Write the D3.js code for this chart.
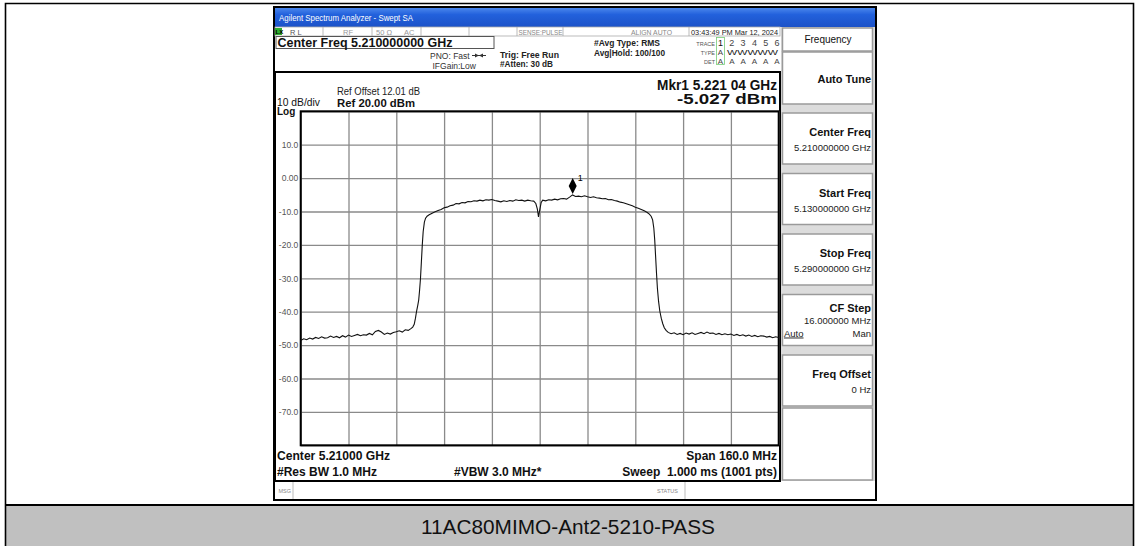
<!DOCTYPE html>
<html>
<head>
<meta charset="utf-8">
<title>11AC80MIMO-Ant2-5210-PASS</title>
<script src="https://d3js.org/d3.v7.min.js"></script>
<style>
  body { margin: 0; background: #fff; }
  svg text { font-family: "Liberation Sans", Arial, sans-serif; }
</style>
</head>
<body>
<div id="chart"></div>
<script>
// sweep settings (MHz)
var START_MHZ = 5130, STOP_MHZ = 5290, DIV_MHZ = 16;
var REF_DBM = 20, DB_DIV = 10;

// trace: [MHz from start freq, level dBm]
var trace = [
  [0,-48.6],[1,-48.1],[2,-48.4],[3,-47.9],[4,-48.2],[5,-47.7],[6,-48.0],[7,-47.5],[8,-47.9],[9,-47.8],
  [10,-47.3],[11,-47.7],[12,-47.4],[13,-47.8],[14,-47.2],[15,-47.6],[16,-47.0],[17,-47.4],[18,-47.1],[19,-46.8],
  [20,-47.2],[21,-46.9],[22,-47.0],[23,-46.5],[24,-46.9],[25,-45.9],[26,-45.6],[27,-46.1],[28,-46.8],[29,-46.4],
  [30,-46.7],[31,-46.2],[32,-46.0],[33,-45.7],[34,-46.1],[35,-45.4],[36,-45.6],[37,-45.0],[37.5,-44.6],[38,-43.8],
  [38.4,-42.0],[38.8,-39.8],[39.2,-38.0],[39.5,-36.5],[39.8,-33.5],[40.1,-30.0],[40.4,-25.0],[40.7,-20.0],[41,-16.0],[41.4,-13.2],
  [41.8,-12.0],[42.3,-11.4],[43,-11.0],[44,-10.5],[45,-10.1],[46,-9.7],[47,-9.4],[48,-8.9],[49,-8.7],[50,-8.3],
  [51,-8.1],[52,-7.6],[53,-7.7],[54,-7.3],[55,-7.4],[56,-7.0],[57,-7.1],[58,-6.8],[59,-6.9],[60,-6.6],
  [61,-6.8],[62,-6.5],[63,-6.6],[64,-6.4],[65,-6.7],[66,-6.9],[67,-7.1],[68,-6.8],[69,-7.0],[70,-6.7],
  [71,-6.9],[72,-6.5],[73,-6.7],[74,-6.6],[75,-6.9],[76,-6.6],[77,-6.8],[78,-6.9],[78.7,-7.6],[79.2,-9.2],
  [79.6,-11.6],[80.0,-9.6],[80.5,-7.3],[81,-6.6],[82,-6.8],[83,-6.5],[84,-6.6],[85,-6.3],[86,-6.5],[87,-6.2],
  [88,-6.1],[89,-6.3],[90,-5.7],[91,-5.03],[92,-5.5],[93,-5.4],[94,-5.6],[95,-5.3],[96,-5.6],[97,-5.8],
  [98,-5.6],[99,-5.9],[100,-6.0],[101,-6.2],[102,-6.1],[103,-6.5],[104,-6.4],[105,-6.7],[106,-6.9],[107,-7.2],
  [108,-7.4],[109,-7.7],[110,-8.0],[111,-8.3],[112,-8.7],[113,-9.0],[114,-9.4],[115,-9.8],[116,-10.3],[116.7,-10.8],
  [117.3,-11.4],[117.8,-12.5],[118.2,-15.0],[118.5,-18.5],[118.8,-23.5],[119.1,-28.5],[119.4,-33.0],[119.8,-37.0],[120.2,-39.8],[120.7,-42.0],
  [121.2,-43.6],[121.7,-44.8],[122.3,-45.6],[123,-46.2],[124,-46.6],[125,-46.3],[126,-46.8],[127,-46.5],[128,-46.9],[129,-46.4],
  [130,-46.7],[131,-46.3],[132,-46.8],[133,-46.5],[134,-46.2],[135,-46.6],[136,-46.1],[137,-46.5],[138,-46.4],[139,-46.8],
  [140,-46.5],[141,-46.9],[142,-46.6],[143,-46.9],[144,-46.7],[145,-47.1],[146,-46.8],[147,-47.2],[148,-46.9],[149,-47.3],
  [150,-47.0],[151,-47.4],[152,-47.1],[153,-47.5],[154,-47.2],[155,-47.3],[156,-47.6],[157,-47.4],[158,-47.8],[159,-47.5],
  [160,-47.7]
];

var yLevels = [20, 10, 0, -10, -20, -30, -40, -50, -60, -70, -80];
var yLabels = ["", "10.0", "0.00", "-10.0", "-20.0", "-30.0", "-40.0", "-50.0", "-60.0", "-70.0", ""];

var marker = { mhz: 5221.04, dbm: -5.027, name: "1" };

var caption = "11AC80MIMO-Ant2-5210-PASS";
var windowTitle = "Agilent Spectrum Analyzer - Swept SA";
var centerFreqText = "Center Freq 5.210000000 GHz";
var mkrLines = ["Mkr1 5.221 04 GHz", "-5.027 dBm"];

var softkeyMenu = "Frequency";
var softkeys = [
  { title: "Auto Tune" },
  { title: "Center Freq", value: "5.210000000 GHz" },
  { title: "Start Freq", value: "5.130000000 GHz" },
  { title: "Stop Freq", value: "5.290000000 GHz" },
  { title: "CF Step", value: "16.000000 MHz", auto: "Auto", man: "Man" },
  { title: "Freq Offset", value: "0 Hz" },
  { title: "" }
];

var W = 1136, H = 546;
var FONT_COLOR = "#111";

var svg = d3.select("#chart").append("svg")
    .attr("width", W).attr("height", H)
    .style("display", "block");

var defs = svg.append("defs");
var grad = defs.append("linearGradient").attr("id", "titlebar")
    .attr("x1", 0).attr("y1", 0).attr("x2", 0).attr("y2", 1);
grad.append("stop").attr("offset", "0%").attr("stop-color", "#4a86ec");
grad.append("stop").attr("offset", "35%").attr("stop-color", "#2261dc");
grad.append("stop").attr("offset", "100%").attr("stop-color", "#1c52c8");

function txt(g, x, y, s, size, opts) {
  opts = opts || {};
  var t = g.append("text")
      .attr("x", x).attr("y", y)
      .attr("font-size", size)
      .attr("fill", opts.fill || FONT_COLOR)
      .attr("font-weight", opts.bold ? "bold" : "normal")
      .attr("text-anchor", opts.anchor || "start")
      .text(s);
  if (opts.len) t.attr("textLength", opts.len).attr("lengthAdjust", "spacingAndGlyphs");
  return t;
}

// ---- page table (report cell) ----
svg.append("rect").attr("x", 0).attr("y", 0).attr("width", W).attr("height", H).attr("fill", "#fff");
svg.append("rect").attr("x", 6).attr("y", 506).attr("width", 1127).attr("height", 40).attr("fill", "#c0c0c0");
svg.append("path").attr("d", "M5.5,546V3.5H1133.5V546").attr("fill", "none").attr("stroke", "#000").attr("stroke-width", 1.6);
svg.append("line").attr("x1", 5).attr("x2", 1134).attr("y1", 505).attr("y2", 505).attr("stroke", "#000").attr("stroke-width", 2);
txt(svg, 568, 534, caption, 20.5, { anchor: "middle", fill: "#111", len: 294 });

// ---- analyzer screen ----
var scr = svg.append("g");
scr.append("rect").attr("x", 274).attr("y", 7).attr("width", 602).attr("height", 493)
    .attr("fill", "#fff").attr("stroke", "#000").attr("stroke-width", 2);
scr.append("rect").attr("x", 275).attr("y", 8).attr("width", 600).attr("height", 19).attr("fill", "url(#titlebar)");
txt(scr, 279, 21, windowTitle, 8.5, { fill: "#fff", len: 134 });

// status strip
scr.append("rect").attr("x", 275).attr("y", 27).attr("width", 505).attr("height", 9)
    .attr("fill", "#fff").attr("stroke", "#aaa").attr("stroke-width", 0.8);
[323, 372, 421, 469, 517, 563, 689].forEach(function (x) {
  scr.append("line").attr("x1", x).attr("x2", x).attr("y1", 27).attr("y2", 36).attr("stroke", "#aaa").attr("stroke-width", 0.8);
});
scr.append("rect").attr("x", 275).attr("y", 28).attr("width", 7).attr("height", 7).attr("fill", "#2fae2f");
txt(scr, 275.5, 34, "LX", 6, { bold: true, fill: "#000" });
txt(scr, 290, 34.5, "R L", 7.5, { fill: "#555" });
txt(scr, 343, 34.5, "RF", 7.5, { fill: "#999" });
txt(scr, 376, 34.5, "50 Ω", 7.5, { fill: "#999" });
txt(scr, 404, 34.5, "AC", 7.5, { fill: "#999" });
txt(scr, 518.5, 34.5, "SENSE:PULSE", 7.5, { fill: "#888", len: 44 });
txt(scr, 631, 34.5, "ALIGN AUTO", 7.5, { fill: "#888", len: 41 });
txt(scr, 691, 34.5, "03:43:49 PM Mar 12, 2024", 8, { fill: "#222", len: 87 });

// top info area
scr.append("rect").attr("x", 276).attr("y", 36.5).attr("width", 218).attr("height", 12)
    .attr("fill", "#fff").attr("stroke", "#555").attr("stroke-width", 1);
txt(scr, 277.5, 47, centerFreqText, 12.5, { bold: true, len: 175 });
txt(scr, 430, 58.5, "PNO: Fast", 8.5, { fill: "#333" });
scr.append("line").attr("x1", 472).attr("x2", 486).attr("y1", 55.5).attr("y2", 55.5).attr("stroke", "#333");
scr.append("path").attr("d", "M475,53.5L479,55.5L475,57.5Z M483,53.5L479,55.5L483,57.5Z").attr("fill", "#333");
txt(scr, 432.5, 69, "IFGain:Low", 8.5, { fill: "#333" });
txt(scr, 500, 57.5, "Trig: Free Run", 9.5, { bold: true, fill: "#222", len: 59 });
txt(scr, 500, 67, "#Atten: 30 dB", 9, { bold: true, fill: "#222", len: 53 });
txt(scr, 594, 46, "#Avg Type: RMS", 9.5, { bold: true, fill: "#222", len: 66 });
txt(scr, 594, 56, "Avg|Hold: 100/100", 9.5, { bold: true, fill: "#222", len: 71 });
txt(scr, 715, 45.5, "TRACE", 5.5, { anchor: "end", fill: "#555" });
txt(scr, 715, 54.5, "TYPE", 5.5, { anchor: "end", fill: "#555" });
txt(scr, 715, 64, "DET", 5.5, { anchor: "end", fill: "#555" });
scr.append("rect").attr("x", 716.5).attr("y", 37.5).attr("width", 8).attr("height", 27)
    .attr("fill", "none").attr("stroke", "#7c7").attr("stroke-width", 0.8);
d3.range(6).forEach(function (i) {
  txt(scr, 720.5 + i * 11.3, 46, String(i + 1), 9, { anchor: "middle", fill: i === 0 ? "#111" : "#444" });
  txt(scr, 720.5 + i * 11.3, 64, "A", 8, { anchor: "middle", fill: "#444" });
});
txt(scr, 720.5, 55, "A", 8, { anchor: "middle", fill: "#444" });
txt(scr, 727, 55, "WWWWW", 8, { fill: "#222", len: 51 });

// display frame
scr.append("rect").attr("x", 275).attr("y", 72).attr("width", 505).attr("height", 409)
    .attr("fill", "#fff").attr("stroke", "#000").attr("stroke-width", 2);

// ---- graticule ----
var x0 = 300.7, x1 = 778.7, y0 = 111.3, y1 = 445.3;
var x = d3.scaleLinear().domain([START_MHZ, STOP_MHZ]).range([x0, x1]);
var y = d3.scaleLinear().domain([REF_DBM - 10 * DB_DIV, REF_DBM]).range([y1, y0]);

var xAxis = d3.axisBottom(x)
    .tickValues(d3.range(START_MHZ, STOP_MHZ + 1, DIV_MHZ))
    .tickSize(-(y1 - y0)).tickFormat("");
var gx = scr.append("g").attr("transform", "translate(0," + y1 + ")").call(xAxis);

var yAxis = d3.axisLeft(y)
    .tickValues(yLevels)
    .tickSize(-(x1 - x0)).tickPadding(2.5)
    .tickFormat(function (d, i) { return yLabels[i]; });
var gy = scr.append("g").attr("transform", "translate(" + x0 + ",0)").call(yAxis);

[gx, gy].forEach(function (g) {
  g.select(".domain").remove();
  g.selectAll(".tick line").attr("stroke", "#8a8a8a").attr("stroke-width", 1.3);
});
gy.selectAll(".tick text")
    .attr("font-size", 8.5).attr("fill", "#555")
    .attr("font-family", "Liberation Sans, Arial, sans-serif");

scr.append("rect").attr("x", x0).attr("y", y0).attr("width", x1 - x0).attr("height", y1 - y0)
    .attr("fill", "none").attr("stroke", "#000").attr("stroke-width", 2);

// trace
var line = d3.line()
    .x(function (d) { return x(START_MHZ + d[0]); })
    .y(function (d) { return y(d[1]); });
scr.append("path").datum(trace)
    .attr("fill", "none").attr("stroke", "#111").attr("stroke-width", 1.1)
    .attr("d", line);

// marker diamond
var mx = x(marker.mhz), my = y(marker.dbm);
scr.append("path")
    .attr("d", "M" + mx + "," + (my - 1) + "L" + (mx + 4) + "," + (my - 9) + "L" + mx + "," + (my - 17) + "L" + (mx - 4) + "," + (my - 9) + "Z")
    .attr("fill", "#000");
txt(scr, mx + 5, my - 13.5, marker.name, 9, { fill: "#000" });

// display annotations
txt(scr, 337, 94.5, "Ref Offset 12.01 dB", 10, { fill: "#222", len: 83 });
txt(scr, 277, 106, "10 dB/div", 10.5, { fill: "#111", len: 43 });
txt(scr, 277, 115, "Log", 10, { bold: true, fill: "#111" });
txt(scr, 337, 107, "Ref 20.00 dBm", 11.5, { bold: true, len: 78 });
txt(scr, 777, 89.5, mkrLines[0], 14, { bold: true, anchor: "end", len: 120 });
txt(scr, 777, 104, mkrLines[1], 14, { bold: true, anchor: "end", len: 100 });

txt(scr, 277, 459.5, "Center 5.21000 GHz", 12, { bold: true, len: 113 });
txt(scr, 777, 459.5, "Span 160.0 MHz", 12, { bold: true, anchor: "end" });
txt(scr, 277, 475.5, "#Res BW 1.0 MHz", 12, { bold: true });
txt(scr, 454, 475.5, "#VBW 3.0 MHz*", 12, { bold: true });
txt(scr, 777, 475.5, "Sweep\u00a0\u00a01.000 ms (1001 pts)", 12, { bold: true, anchor: "end" });

// message bar
scr.append("rect").attr("x", 276).attr("y", 482).attr("width", 599).attr("height", 17).attr("fill", "#fff");
[293, 685].forEach(function (xx) {
  scr.append("line").attr("x1", xx).attr("x2", xx).attr("y1", 482).attr("y2", 499).attr("stroke", "#bbb");
});
txt(scr, 278.5, 492.5, "MSG", 5.5, { fill: "#888" });
txt(scr, 657, 492.5, "STATUS", 5.5, { fill: "#888" });

// ---- softkey panel ----
var sk = scr.append("g");
sk.append("rect").attr("x", 781).attr("y", 27).attr("width", 94).attr("height", 454).attr("fill", "#dcdcdc");
sk.append("rect").attr("x", 782.5).attr("y", 28).attr("width", 90).attr("height", 23)
    .attr("fill", "#fff").attr("stroke", "#9a9a9a").attr("stroke-width", 1.5);
txt(sk, 828, 42.5, softkeyMenu, 10, { anchor: "middle", fill: "#111" });

var keyTop = [52, 113, 173.5, 234, 294.5, 355, 408];
var keyH = [52, 51, 51, 51, 51, 51, 72];
softkeys.forEach(function (k, i) {
  var t = keyTop[i];
  sk.append("rect").attr("x", 782.5).attr("y", t).attr("width", 90).attr("height", keyH[i])
      .attr("fill", "#fff").attr("stroke", "#9a9a9a").attr("stroke-width", 1.5);
  if (!k.title) return;
  var titleY = k.value ? (k.auto ? t + 17.5 : t + 23) : t + 30.5;
  txt(sk, 871, titleY, k.title, 11, { bold: true, anchor: "end" });
  if (k.value) txt(sk, 871, k.auto ? t + 29 : t + 38, k.value, 9.5, { anchor: "end", fill: "#222" });
  if (k.auto) {
    txt(sk, 784, t + 42, k.auto, 9.5, { fill: "#222" }).attr("text-decoration", "underline");
    txt(sk, 871, t + 42, k.man, 9.5, { anchor: "end", fill: "#222" });
  }
});
</script>
</body>
</html>
